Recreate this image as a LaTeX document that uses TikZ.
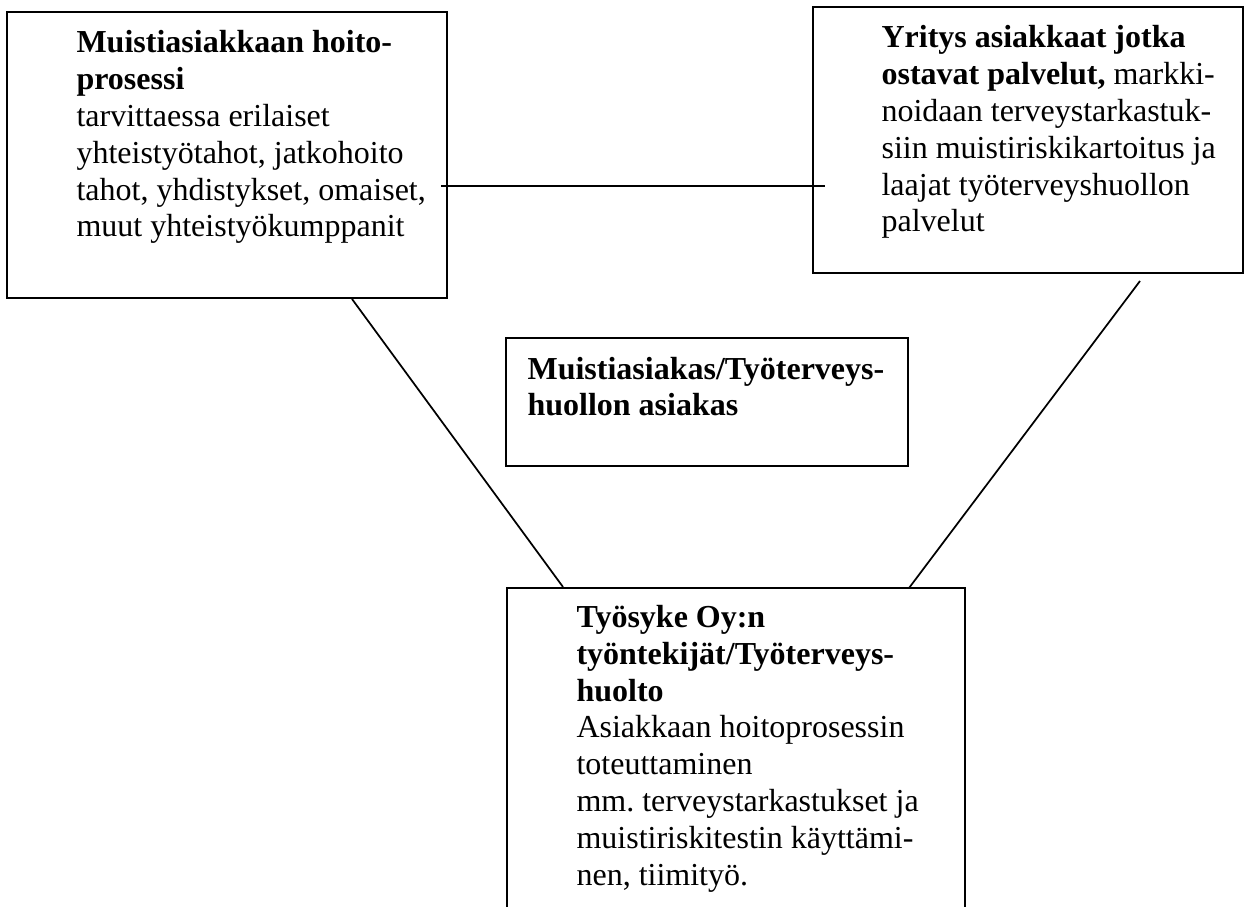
\documentclass[tikz,border=0pt]{standalone}
\usepackage{fontspec}
\setmainfont{Liberation Serif}
\usetikzlibrary{calc}
\newcommand\pxu{0.375pt}
\frenchspacing
\begin{document}
\begin{tikzpicture}[x=0.375pt, y=-0.375pt,
  boxnode/.style={draw, line width=0.75pt, anchor=north west, inner sep=0, outer sep=0},
  txt/.style={anchor=base west, inner sep=0, align=left, font=\fontsize{12pt}{13.8pt}\selectfont\frenchspacing},
  conn/.style={line width=0.65pt}]
\useasboundingbox (0,0) rectangle (1246,907);
\begin{scope}
\clip (0,0) rectangle (1246,907);
% boxes
\node[boxnode, minimum width=440*\pxu, minimum height=286*\pxu] (b1) at (7,12) {};
\node[boxnode, minimum width=430*\pxu, minimum height=266*\pxu] (b2) at (813,7) {};
\node[boxnode, minimum width=402*\pxu, minimum height=128*\pxu] (b3) at (506,338) {};
\node[boxnode, minimum width=458*\pxu, minimum height=340*\pxu] (b4) at (507,588) {};
% texts (anchored at the baseline of the last line)
\node[txt] (t1) at (76,237) {\textbf{Muistiasiakkaan hoito-}\\\textbf{prosessi}\\tarvittaessa erilaiset\\yhteistyötahot, jatkohoito\\tahot, yhdistykset, omaiset,\\muut yhteistyökumppanit};
\node[txt] (t2) at (881,232) {\textbf{Yritys asiakkaat jotka}\\\textbf{ostavat palvelut,} markki-\\noidaan terveystarkastuk-\\siin muistiriskikartoitus ja\\laajat työterveyshuollon\\palvelut};
\node[txt] (t3) at (527,416) {\textbf{Muistiasiakas/Työterveys-}\\\textbf{huollon asiakas}};
\node[txt] (t4) at (576,885) {\textbf{Työsyke Oy:n}\\\textbf{työntekijät/Työterveys-}\\\textbf{huolto}\\Asiakkaan hoitoprosessin\\toteuttaminen\\mm. terveystarkastukset ja\\muistiriskitestin käyttämi-\\nen, tiimityö.};
% connectors
\draw[conn] ($(b1.north east)+(-6,174)$) -- ($(b2.north west)+(12,179)$);
\draw[conn] ($(b1.south west)+(345,1)$) -- ($(b4.north west)+(56,-1)$);
\draw[conn] ($(b2.south east)+(-103,8)$) -- ($(b4.north east)+(-56,0)$);
\end{scope}
\end{tikzpicture}
\end{document}
